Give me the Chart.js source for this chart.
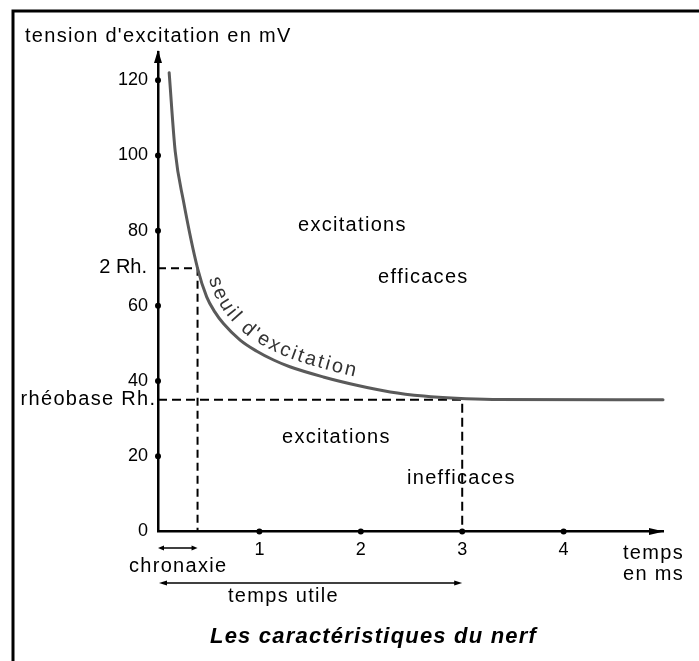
<!DOCTYPE html>
<html>
<head>
<meta charset="utf-8">
<title>Les caractéristiques du nerf</title>
<script src="https://cdn.jsdelivr.net/npm/chart.js@4/dist/chart.umd.min.js"></script>
<style>
  html, body { margin: 0; padding: 0; background: #fff; }
  #wrap { width: 699px; height: 661px; }
</style>
</head>
<body>
<div id="wrap"><canvas id="nerf" width="699" height="661"></canvas></div>
<script>
// Excitation threshold curve (strength-duration), time in ms, tension in mV
const timeMs    = [0.11, 0.17, 0.25, 0.39, 0.48, 0.56, 0.645, 0.81, 0.97, 1.14, 1.30, 1.63, 1.96, 2.29, 2.62, 2.94, 3.30, 4.98];
const tensionMv = [122, 101, 88, 70, 62.4, 58.4, 55.3, 50.9, 48.0, 45.6, 43.8, 41.1, 38.9, 37.1, 36.0, 35.4, 35.1, 35];

// Characteristic values
const rheobase = 35;     // mV
const chronaxie = 0.39;  // ms (threshold = 2 × rheobase)
const tempsUtile = 3;    // ms

// Axis ticks
const yTickValues = [0, 20, 40, 60, 80, 100, 120];
const xTickValues = [1, 2, 3, 4];

const FONT = '"Liberation Sans", Arial, Helvetica, sans-serif';
const INK = '#000';

const curvePoints = timeMs.map((t, i) => ({ x: t, y: tensionMv[i] }));
const chronaxieGuide = [
  { x: 0, y: 2 * rheobase }, { x: chronaxie, y: 2 * rheobase }, { x: chronaxie, y: 0 }
];
const rheobaseGuide = [
  { x: 0, y: rheobase }, { x: tempsUtile, y: rheobase }, { x: tempsUtile, y: 0 }
];

// text helpers with manual letter spacing
function spacedWidth(ctx, text, sp) {
  let w = 0;
  for (const ch of text) w += ctx.measureText(ch).width + sp;
  return w - sp;
}
function drawSpaced(ctx, text, x, y, sp, align) {
  const w = spacedWidth(ctx, text, sp);
  let cx = align === 'center' ? x - w / 2 : align === 'right' ? x - w : x;
  ctx.textAlign = 'left';
  for (const ch of text) {
    ctx.fillText(ch, cx, y);
    cx += ctx.measureText(ch).width + sp;
  }
}
function arrowHead(ctx, tipX, tipY, dirX, dirY, len, half) {
  const px = -dirY, py = dirX;
  ctx.beginPath();
  ctx.moveTo(tipX, tipY);
  ctx.lineTo(tipX - dirX * len + px * half, tipY - dirY * len + py * half);
  ctx.lineTo(tipX - dirX * len - px * half, tipY - dirY * len - py * half);
  ctx.closePath();
  ctx.fill();
}

// sample the drawn threshold curve (bezier segments) in pixel space
function sampleCurve(chart) {
  const meta = chart.getDatasetMeta(0);
  const line = meta.dataset;
  if (line && line.updateControlPoints) line.updateControlPoints(chart.chartArea, 'x');
  const pts = meta.data;
  const out = [];
  for (let i = 0; i < pts.length - 1; i++) {
    const a = pts[i], b = pts[i + 1];
    const hasCp = a.cp2x !== undefined && b.cp1x !== undefined;
    const c1x = hasCp ? a.cp2x : a.x, c1y = hasCp ? a.cp2y : a.y;
    const c2x = hasCp ? b.cp1x : b.x, c2y = hasCp ? b.cp1y : b.y;
    for (let k = 0; k < 40; k++) {
      const t = k / 40, u = 1 - t;
      out.push({
        x: u*u*u*a.x + 3*u*u*t*c1x + 3*u*t*t*c2x + t*t*t*b.x,
        y: u*u*u*a.y + 3*u*u*t*c1y + 3*u*t*t*c2y + t*t*t*b.y
      });
    }
  }
  const last = pts[pts.length - 1];
  out.push({ x: last.x, y: last.y });
  return out;
}

function drawTextOnCurve(chart, text, offset, startDrop, sp) {
  const ctx = chart.ctx;
  const curve = sampleCurve(chart);
  // offset path on the upper side of the curve
  const path = [];
  for (let i = 0; i < curve.length; i++) {
    const p = curve[Math.max(0, i - 2)], n = curve[Math.min(curve.length - 1, i + 2)];
    let dx = n.x - p.x, dy = n.y - p.y;
    const l = Math.hypot(dx, dy) || 1;
    dx /= l; dy /= l;
    path.push({ x: curve[i].x + dy * offset, y: curve[i].y - dx * offset, cy: curve[i].y });
  }
  const arc = [0];
  for (let i = 1; i < path.length; i++) {
    arc.push(arc[i - 1] + Math.hypot(path[i].x - path[i - 1].x, path[i].y - path[i - 1].y));
  }
  const yStart = chart.scales.y.getPixelForValue(2 * rheobase) + startDrop;
  let i0 = path.findIndex(p => p.cy >= yStart);
  if (i0 < 0) i0 = 0;
  function at(s) {
    let j = 1;
    while (j < arc.length - 1 && arc[j] < s) j++;
    const f = (s - arc[j - 1]) / ((arc[j] - arc[j - 1]) || 1);
    const a = path[j - 1], b = path[j];
    return { x: a.x + (b.x - a.x) * f, y: a.y + (b.y - a.y) * f, ang: Math.atan2(b.y - a.y, b.x - a.x) };
  }
  let s = arc[i0];
  ctx.textAlign = 'center';
  ctx.textBaseline = 'alphabetic';
  for (const ch of text) {
    const w = ctx.measureText(ch).width;
    const p = at(s + w / 2);
    ctx.save();
    ctx.translate(p.x, p.y);
    ctx.rotate(p.ang);
    ctx.fillText(ch, 0, 0);
    ctx.restore();
    s += w + sp;
  }
}

const decorations = {
  id: 'decorations',
  afterDraw(chart) {
    const { ctx, chartArea } = chart;
    const xs = chart.scales.x, ys = chart.scales.y;
    const x0 = xs.getPixelForValue(0), y0 = ys.getPixelForValue(0);
    ctx.save();

    // page frame
    ctx.strokeStyle = '#000';
    ctx.lineWidth = 3;
    ctx.beginPath();
    ctx.moveTo(13, 661); ctx.lineTo(13, 11); ctx.lineTo(699, 11);
    ctx.stroke();

    // axis arrows
    ctx.fillStyle = '#000';
    arrowHead(ctx, x0, chartArea.top - 2, 0, -1, 13, 4);
    arrowHead(ctx, chartArea.right + 1, y0, 1, 0, 15, 3.5);

    // tick dots
    for (const v of yTickValues) {
      if (v === 0) continue;
      ctx.beginPath(); ctx.arc(x0, ys.getPixelForValue(v), 3, 0, Math.PI * 2); ctx.fill();
    }
    for (const v of xTickValues) {
      ctx.beginPath(); ctx.arc(xs.getPixelForValue(v), y0, 3, 0, Math.PI * 2); ctx.fill();
    }

    ctx.fillStyle = INK;
    ctx.textBaseline = 'alphabetic';
    ctx.font = '20px ' + FONT;

    // axis titles
    drawSpaced(ctx, "tension d'excitation en mV", 25, 41.5, 1.3, 'left');
    drawSpaced(ctx, 'temps', 623, 559, 1.3, 'left');
    drawSpaced(ctx, 'en ms', 623, 580, 1.3, 'left');

    // reference levels on the tension axis
    drawSpaced(ctx, '2 Rh.', x0 - 11, ys.getPixelForValue(2 * rheobase) + 4.5, 0, 'right');
    drawSpaced(ctx, 'rhéobase Rh.', x0 - 3, ys.getPixelForValue(rheobase) + 5.5, 1.3, 'right');

    // regions
    drawSpaced(ctx, 'excitations', 298, 230.5, 1.3, 'left');
    drawSpaced(ctx, 'efficaces', 378, 282.5, 1.3, 'left');
    drawSpaced(ctx, 'excitations', 282, 443, 1.3, 'left');
    drawSpaced(ctx, 'inefficaces', 407, 484, 1.3, 'left');

    // chronaxie double arrow
    const xc = xs.getPixelForValue(chronaxie);
    ctx.strokeStyle = INK; ctx.fillStyle = INK; ctx.lineWidth = 1.5;
    ctx.beginPath(); ctx.moveTo(x0 + 3, 548); ctx.lineTo(xc - 3, 548); ctx.stroke();
    arrowHead(ctx, x0, 548, -1, 0, 6, 2.5);
    arrowHead(ctx, xc, 548, 1, 0, 6, 2.5);
    drawSpaced(ctx, 'chronaxie', 129, 571.5, 1.3, 'left');

    // temps utile double arrow
    const xu = xs.getPixelForValue(tempsUtile);
    ctx.beginPath(); ctx.moveTo(x0 + 4, 583); ctx.lineTo(xu - 4, 583); ctx.stroke();
    arrowHead(ctx, x0 + 1, 583, -1, 0, 8, 2.5);
    arrowHead(ctx, xu, 583, 1, 0, 8, 2.5);
    ctx.wordSpacing = '7px';
    drawSpaced(ctx, 'temps utile', 228, 601.5, 1.3, 'left');
    ctx.wordSpacing = '0px';

    // caption
    ctx.font = 'italic bold 22px ' + FONT;
    drawSpaced(ctx, 'Les caractéristiques du nerf', 210, 643, 1.2, 'left');

    // curve label
    ctx.font = '20px ' + FONT;
    ctx.fillStyle = '#333';
    drawTextOnCurve(chart, "seuil d'excitation", 8, 13, 2.3);

    ctx.restore();
  }
};

new Chart(document.getElementById('nerf'), {
  type: 'scatter',
  data: {
    datasets: [
      {
        label: "seuil d'excitation",
        data: curvePoints,
        showLine: true,
        borderColor: '#5a5a5a',
        borderWidth: 3,
        pointRadius: 0,
        cubicInterpolationMode: 'monotone',
        borderCapStyle: 'round',
        clip: false
      },
      {
        label: 'chronaxie',
        data: chronaxieGuide,
        showLine: true,
        borderColor: '#000',
        borderWidth: 2,
        borderDash: [8, 5],
        pointRadius: 0
      },
      {
        label: 'rhéobase',
        data: rheobaseGuide,
        showLine: true,
        borderColor: '#000',
        borderWidth: 2,
        borderDash: [9, 5],
        pointRadius: 0
      }
    ]
  },
  options: {
    responsive: false,
    animation: false,
    devicePixelRatio: 1,
    layout: { padding: { top: 52, right: 36, left: 0, bottom: 0 } },
    plugins: { legend: { display: false }, tooltip: { enabled: false } },
    scales: {
      x: {
        type: 'linear',
        min: 0,
        max: 4.98,
        grid: { display: false, drawTicks: false },
        border: { display: true, color: '#000', width: 2.5 },
        afterBuildTicks: s => { s.ticks = xTickValues.map(v => ({ value: v })); },
        afterFit: s => { s.height = 129.5; },
        ticks: { padding: 8, color: INK, font: { family: FONT, size: 18 }, maxRotation: 0, autoSkip: false }
      },
      y: {
        type: 'linear',
        min: 0,
        max: 127.5,
        grid: { display: false, drawTicks: false },
        border: { display: true, color: '#000', width: 2.5 },
        afterBuildTicks: s => { s.ticks = yTickValues.map(v => ({ value: v })); },
        afterFit: s => { s.width = 158; },
        ticks: { padding: 10, color: INK, font: { family: FONT, size: 18 }, autoSkip: false }
      }
    }
  },
  plugins: [decorations]
});
</script>
</body>
</html>
